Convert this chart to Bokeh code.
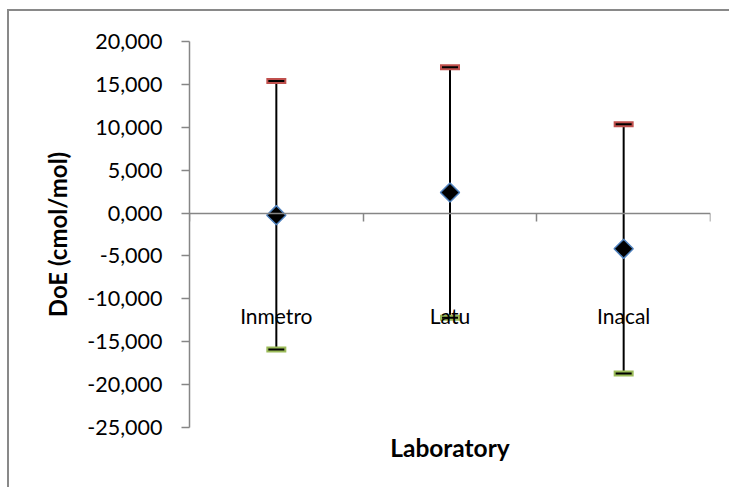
from bokeh.plotting import figure
from bokeh.models import Range1d, FixedTicker, CustomJSTickFormatter, LinearAxis
from bokeh.embed import file_html
from bokeh.resources import INLINE
import numpy as np

# ---- data ----
labs = ["Inmetro", "Latu", "Inacal"]
doe = [-0.25, 2.4, -4.17]
upper = [15.4, 17.0, 10.35]
lower = [-15.9, -12.2, -18.7]
yticks = [-25, -20, -15, -10, -5, 0, 5, 10, 15, 20]

# category slots: each laboratory sits in the middle of its slot
xpos = [i + 0.5 for i in range(len(labs))]
bounds = list(range(len(labs) + 1))

GRAY = "#868686"
FONT = "Lato"

p = figure(width=722, height=478,
           x_range=Range1d(0, len(labs)),
           y_range=Range1d(-25, 20),
           output_backend="svg", toolbar_location=None,
           x_axis_location="below", y_axis_location="left",
           min_border_left=180, min_border_right=21,
           min_border_top=30, min_border_bottom=62)
p.outline_line_color = None
p.grid.visible = False
p.background_fill_color = "white"
p.border_fill_color = "white"
p.styles = {"margin-left": "7px", "margin-top": "9px",
            "border-left": "2px solid #898989", "border-top": "2px solid #898989"}

# y axis
ya = p.yaxis[0]
ya.ticker = FixedTicker(ticks=yticks)
ya.formatter = CustomJSTickFormatter(code="return tick.toFixed(3).replace('.', ',');")
ya.axis_line_color = GRAY
ya.axis_line_width = 1.5
ya.major_tick_line_color = GRAY
ya.major_tick_line_width = 1.5
ya.major_tick_out = 8
ya.major_tick_in = 0
ya.minor_tick_line_color = None
ya.major_label_standoff = 19
ya.major_label_text_font = FONT
ya.major_label_text_font_size = "21.5px"
ya.major_label_text_color = "black"
ya.axis_label = "DoE (cmol/mol)"
ya.axis_label_text_font = FONT
ya.axis_label_text_font_style = "bold"
ya.axis_label_text_font_size = "24px"
ya.axis_label_text_color = "black"
ya.axis_label_standoff = 12

# x axis crossing at zero: labels at slot centres, tick marks between slots
xa = p.xaxis[0]
xa.ticker = FixedTicker(ticks=xpos, minor_ticks=bounds)
xa.major_label_overrides = {x: l for x, l in zip(xpos, labs)}
xa.fixed_location = 0
xa.axis_line_color = GRAY
xa.axis_line_width = 1.5
xa.major_tick_line_color = None
xa.major_tick_out = 0
xa.major_tick_in = 0
xa.minor_tick_line_color = GRAY
xa.minor_tick_line_width = 1.5
xa.minor_tick_out = 8
xa.minor_tick_in = 0
xa.major_label_standoff = 82
xa.major_label_text_font = FONT
xa.major_label_text_font_size = "21px"
xa.major_label_text_color = "black"

# axis title below the plot area
xt = LinearAxis(ticker=FixedTicker(ticks=[]), axis_line_color=None,
                major_tick_line_color=None, minor_tick_line_color=None,
                major_tick_out=0, major_tick_in=0, minor_tick_out=0,
                major_label_standoff=0,
                axis_label="Laboratory", axis_label_standoff=5,
                axis_label_text_font=FONT, axis_label_text_font_style="bold",
                axis_label_text_font_size="24.5px", axis_label_text_color="black")
p.add_layout(xt, "below")

# error bars
p.segment(x0=xpos, y0=lower, x1=xpos, y1=upper, line_color="black", line_width=2)
p.scatter(x=xpos, y=upper, marker="dash", size=20, line_color="#C0504D", line_width=6)
p.scatter(x=xpos, y=lower, marker="dash", size=20, line_color="#9BBB59", line_width=6)
p.scatter(x=xpos, y=upper, marker="dash", size=16, line_color="black", line_width=2)
p.scatter(x=xpos, y=lower, marker="dash", size=16, line_color="black", line_width=2)

# DoE points
p.scatter(x=xpos, y=doe, marker="square", angle=np.pi / 4, size=13.5,
          fill_color="black", line_color="#4F81BD", line_width=1.5)

open("out.html", "w").write(file_html(p, INLINE))
